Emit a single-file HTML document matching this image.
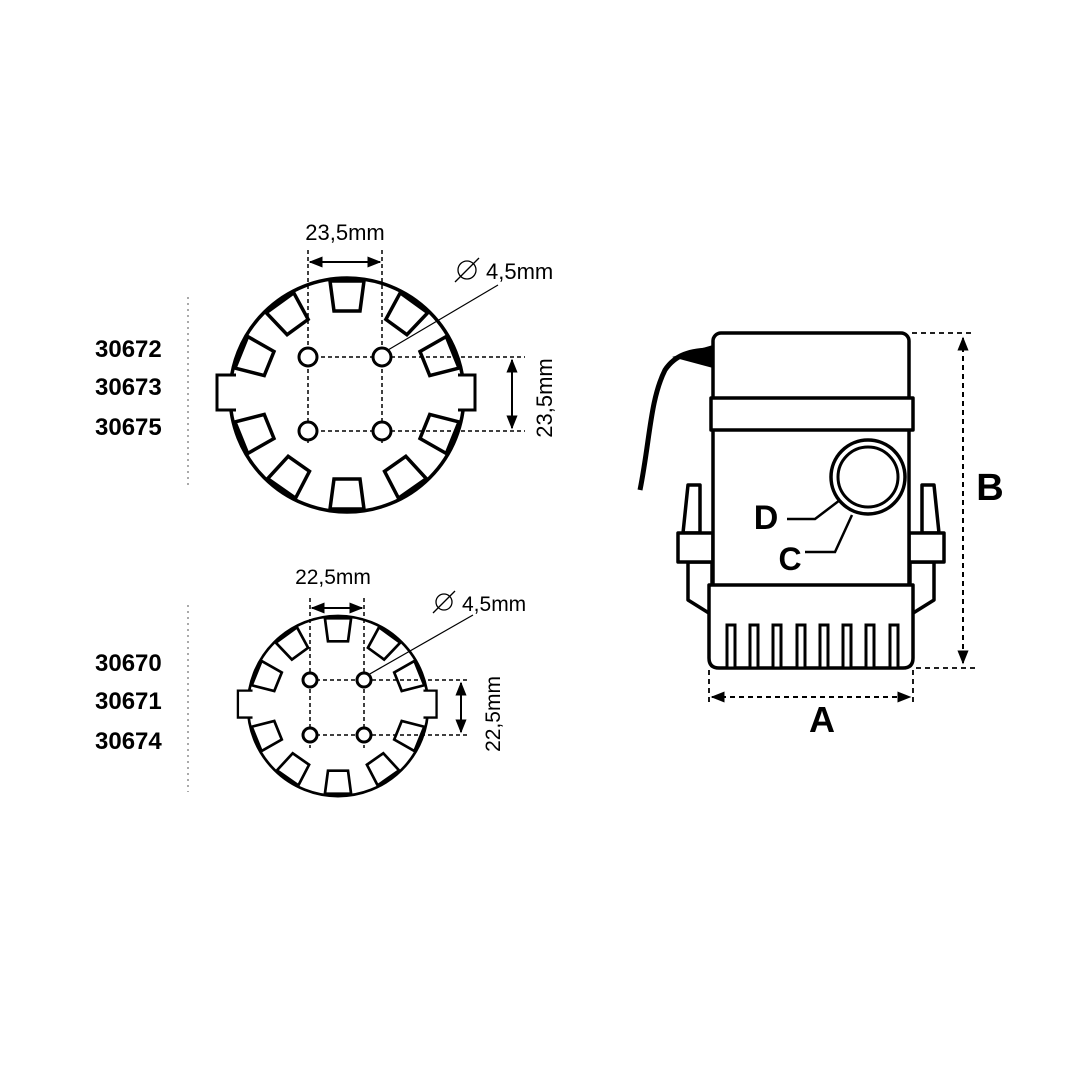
<!DOCTYPE html>
<html><head><style>body{margin:0;background:#fff}svg{display:block}text{font-family:"Liberation Sans",Arial,sans-serif}</style></head><body>
<svg width="1080" height="1080" viewBox="0 0 1080 1080" xmlns="http://www.w3.org/2000/svg">
<defs>
<marker id="ar" viewBox="0 0 10 10" refX="9" refY="5" markerWidth="7" markerHeight="7" orient="auto-start-reverse"><path d="M0,1 L10,5 L0,9 z" fill="#000"/></marker>
<g id="slot"><path d="M-17,-114 L17,-114 L13,-84 L-13,-84 Z" fill="#fff" stroke="#000" stroke-width="3.5"/></g>
<g id="plate">
<circle r="117" fill="none" stroke="#000" stroke-width="3.5"/>
<path d="M-111,-20 L-130,-20 L-130,15 L-111,15 M111,-20 L128,-20 L128,15 L111,15" fill="#fff" stroke="#000" stroke-width="3"/>
<rect x="-116" y="-18" width="8" height="31" fill="#fff"/><rect x="108" y="-18" width="8" height="31" fill="#fff"/>
<use href="#slot"/><use href="#slot" transform="rotate(36)"/><use href="#slot" transform="rotate(-36)"/>
<use href="#slot" transform="rotate(68)"/><use href="#slot" transform="rotate(-68)"/>
<use href="#slot" transform="rotate(112)"/><use href="#slot" transform="rotate(-112)"/>
<use href="#slot" transform="rotate(145)"/><use href="#slot" transform="rotate(-145)"/>
<use href="#slot" transform="rotate(180)"/>
</g>
</defs>
<g font-weight="bold" font-size="24">
<text x="95" y="357">30672</text><text x="95" y="395">30673</text><text x="95" y="435">30675</text>
<text x="95" y="671">30670</text><text x="95" y="709">30671</text><text x="95" y="749">30674</text>
</g>
<g stroke="#aaa" stroke-width="2" stroke-dasharray="2,4"><line x1="188" y1="297" x2="188" y2="485"/><line x1="188" y1="605" x2="188" y2="792"/></g>

<use href="#plate" transform="translate(347,395)"/>
<g stroke="#000" stroke-width="1.5" stroke-dasharray="4,3" fill="none">
<line x1="308" y1="250" x2="308" y2="445"/><line x1="382" y1="250" x2="382" y2="445"/>
<line x1="300" y1="357" x2="525" y2="357"/><line x1="300" y1="431" x2="525" y2="431"/>
</g>
<g fill="#fff" stroke="#000" stroke-width="3"><circle cx="308" cy="357" r="9"/><circle cx="382" cy="357" r="9"/><circle cx="308" cy="431" r="9"/><circle cx="382" cy="431" r="9"/></g>
<line x1="310" y1="262" x2="380" y2="262" stroke="#000" stroke-width="2" marker-start="url(#ar)" marker-end="url(#ar)"/>
<line x1="512" y1="360" x2="512" y2="428" stroke="#000" stroke-width="2" marker-start="url(#ar)" marker-end="url(#ar)"/>
<line x1="388" y1="350" x2="498" y2="285" stroke="#000" stroke-width="1.2"/>
<text x="345" y="240" font-size="22" text-anchor="middle">23,5mm</text>
<text x="486" y="279" font-size="22">4,5mm</text>
<circle cx="467" cy="270" r="9" fill="none" stroke="#000" stroke-width="1.3"/><line x1="455" y1="282" x2="479" y2="258" stroke="#000" stroke-width="1.3"/>
<text transform="translate(552,398) rotate(-90)" font-size="22" text-anchor="middle">23,5mm</text>

<use href="#plate" transform="translate(338,706) scale(0.77)"/>
<g stroke="#000" stroke-width="1.5" stroke-dasharray="4,3" fill="none">
<line x1="310" y1="598" x2="310" y2="748"/><line x1="364" y1="598" x2="364" y2="748"/>
<line x1="302" y1="680" x2="470" y2="680"/><line x1="302" y1="735" x2="470" y2="735"/>
</g>
<g fill="#fff" stroke="#000" stroke-width="3"><circle cx="310" cy="680" r="7"/><circle cx="364" cy="680" r="7"/><circle cx="310" cy="735" r="7"/><circle cx="364" cy="735" r="7"/></g>
<line x1="312" y1="608" x2="362" y2="608" stroke="#000" stroke-width="2" marker-start="url(#ar)" marker-end="url(#ar)"/>
<line x1="461" y1="683" x2="461" y2="732" stroke="#000" stroke-width="2" marker-start="url(#ar)" marker-end="url(#ar)"/>
<line x1="368" y1="675" x2="473" y2="615" stroke="#000" stroke-width="1.2"/>
<text x="333" y="584" font-size="21" text-anchor="middle">22,5mm</text>
<text x="462" y="611" font-size="21">4,5mm</text>
<circle cx="444" cy="602" r="8" fill="none" stroke="#000" stroke-width="1.3"/><line x1="433" y1="613" x2="455" y2="591" stroke="#000" stroke-width="1.3"/>
<text transform="translate(500,714) rotate(-90)" font-size="21" text-anchor="middle">22,5mm</text>

<!-- pump -->
<path d="M713,350 C690,350 675,355 665,370 C650,400 650,440 640,490" fill="none" stroke="#000" stroke-width="5"/>
<path d="M672,357 L713,345 L713,368 Z" fill="#000"/>
<g fill="#fff" stroke="#000" stroke-width="3.5" stroke-linejoin="round">
<path d="M688,485 L700,485 L700,533 L683,533 Z M688,562 L712,562 L712,615 L688,600 Z"/>
<path d="M934,485 L922,485 L922,533 L939,533 Z M934,562 L910,562 L910,615 L934,600 Z"/>
<rect x="678" y="533" width="35" height="29"/><rect x="909" y="533" width="35" height="29"/>
<rect x="713" y="333" width="196" height="100" rx="8"/>
<rect x="713" y="428" width="196" height="160"/>
<rect x="711" y="398" width="202" height="32"/>
<path d="M709,585 L913,585 L913,658 Q913,668 903,668 L719,668 Q709,668 709,658 Z"/>
</g>
<g fill="#fff" stroke="#000" stroke-width="3">
<rect x="727" y="625" width="8" height="43"/><rect x="750" y="625" width="8" height="43"/><rect x="773" y="625" width="8" height="43"/><rect x="797" y="625" width="8" height="43"/>
<rect x="820" y="625" width="8" height="43"/><rect x="843" y="625" width="8" height="43"/><rect x="866" y="625" width="8" height="43"/><rect x="890" y="625" width="8" height="43"/>
</g>
<circle cx="868" cy="477" r="37" fill="#fff" stroke="#000" stroke-width="3.5"/>
<circle cx="868" cy="477" r="30" fill="none" stroke="#000" stroke-width="3"/>
<polyline points="787,519 815,519 840,500" fill="none" stroke="#000" stroke-width="2.5"/>
<polyline points="805,552 835,552 852,515" fill="none" stroke="#000" stroke-width="2.5"/>
<text x="766" y="529" font-size="34" font-weight="bold" text-anchor="middle">D</text>
<text x="790" y="570" font-size="32" font-weight="bold" text-anchor="middle">C</text>
<g stroke="#000" stroke-width="1.8" stroke-dasharray="5,4" fill="none">
<line x1="912" y1="333" x2="972" y2="333"/><line x1="916" y1="668" x2="975" y2="668"/>
<line x1="709" y1="670" x2="709" y2="705"/><line x1="913" y1="670" x2="913" y2="705"/>
<line x1="963" y1="338" x2="963" y2="663" marker-start="url(#ar)" marker-end="url(#ar)" stroke-width="2"/>
<line x1="712" y1="697" x2="910" y2="697" marker-start="url(#ar)" marker-end="url(#ar)" stroke-width="2"/>
</g>
<text x="990" y="500" font-size="38" font-weight="bold" text-anchor="middle">B</text>
<text x="822" y="732" font-size="36" font-weight="bold" text-anchor="middle">A</text>
</svg>
</body></html>
